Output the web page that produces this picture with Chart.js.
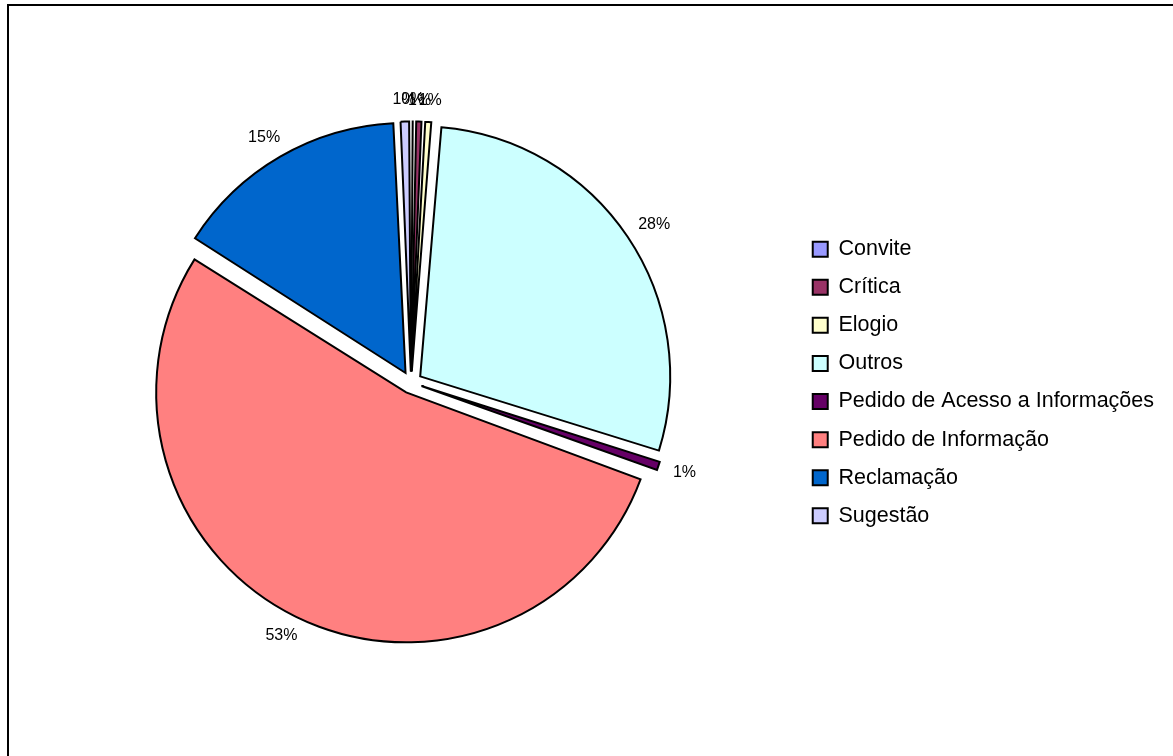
<!DOCTYPE html>
<html>
<head>
<meta charset="utf-8">
<script src="https://cdn.jsdelivr.net/npm/chart.js@4.4.0/dist/chart.umd.min.js"></script>
<style>
  html, body { margin: 0; background: #fff; }
  #wrap { position: relative; width: 1173px; height: 756px; }
</style>
</head>
<body>
<div id="wrap"><canvas id="pie"></canvas></div>
<script>
// Categories and shares (percent of all requests).
const categories = [
  "Convite", "Crítica", "Elogio", "Outros",
  "Pedido de Acesso a Informações", "Pedido de Informação",
  "Reclamação", "Sugestão"
];
const shares = [0.2, 0.55, 0.6, 28.45, 0.75, 53.49, 15.2, 0.76];

// Classic office chart palette, one per category.
const sliceColors = [
  "#9999FF", "#993366", "#FFFFCC", "#CCFFFF",
  "#660066", "#FF8080", "#0066CC", "#CCCCFF"
];

const FONT = '"Liberation Sans", Arial, sans-serif';

// Chart.js grows the radius of exploded slices unevenly; keep every slice
// at the same radius so the pie looks like a plain exploded pie.
const ArcEl = Chart.registry.getElement("arc");
const baseArcDraw = ArcEl.prototype.draw;
ArcEl.prototype.draw = function (ctx) {
  const shift = (this.options.offset || 0) / 4;
  const grow = shift * (1 - Math.sin(Math.min(Math.PI, this.circumference || 0)));
  const r = this.outerRadius;
  this.outerRadius = r - grow;
  baseArcDraw.call(this, ctx);
  this.outerRadius = r;
};

// Percent labels outside each slice.
const percentLabels = {
  id: "percentLabels",
  afterDatasetsDraw(chart) {
    const ctx = chart.ctx;
    const meta = chart.getDatasetMeta(0);
    const total = shares.reduce((a, b) => a + b, 0);
    ctx.save();
    ctx.font = "16px " + FONT;
    ctx.fillStyle = "#000";
    ctx.textAlign = "center";
    ctx.textBaseline = "middle";
    meta.data.forEach((arc, i) => {
      const mid = (arc.startAngle + arc.endAngle) / 2;
      const shift = (arc.options.offset || 0) / 4;
      const dx = Math.cos(mid), dy = Math.sin(mid);
      const text = Math.round(shares[i] / total * 100) + "%";
      const w = ctx.measureText(text).width, h = 11;
      const d = arc.outerRadius + shift + 16;
      ctx.fillText(text, arc.x + dx * d + dx * w / 2, arc.y + dy * d + dy * h / 2);
    });
    ctx.restore();
  }
};

// Left/top frame line of the original chart area.
const frame = {
  id: "frame",
  afterDraw(chart) {
    const ctx = chart.ctx;
    ctx.save();
    ctx.fillStyle = "#000";
    ctx.fillRect(7, 4, 2, chart.height - 4);
    ctx.fillRect(7, 4, chart.width - 7, 2);
    ctx.restore();
  }
};

new Chart(document.getElementById("pie"), {
  type: "pie",
  data: {
    labels: categories,
    datasets: [{
      data: shares,
      backgroundColor: sliceColors,
      borderColor: "#000",
      borderWidth: 2,
      borderJoinStyle: "miter",
      offset: 44
    }]
  },
  options: {
    responsive: true,
    maintainAspectRatio: false,
    animation: false,
    radius: 250,
    layout: { padding: { left: 26, right: 9, top: 9, bottom: 0 } },
    plugins: {
      tooltip: { enabled: false },
      legend: {
        position: "right",
        align: "center",
        labels: {
          boxWidth: 15,
          boxHeight: 15,
          padding: 16.6,
          color: "#000",
          font: { size: 21.5, family: FONT }
        }
      }
    }
  },
  plugins: [percentLabels, frame]
});
</script>
</body>
</html>
